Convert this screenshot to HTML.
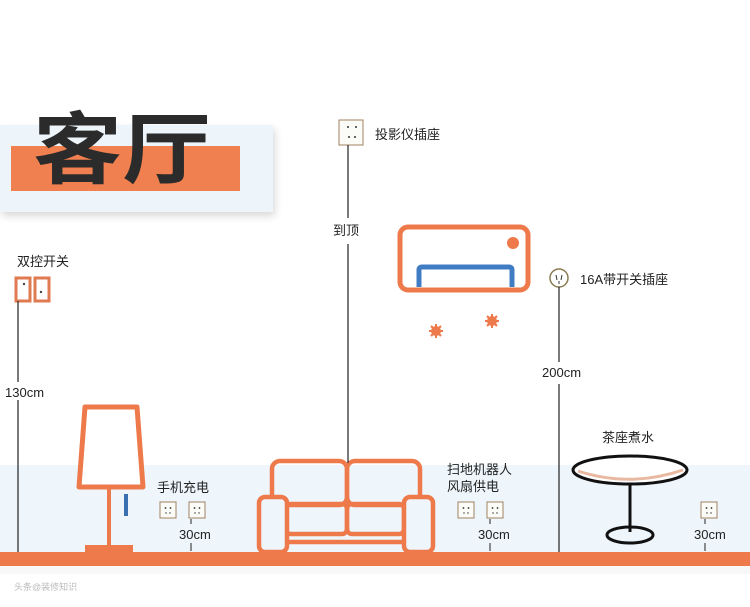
<!DOCTYPE html>
<html><head><meta charset="utf-8"><style>
html,body{margin:0;padding:0;background:#fff;}
svg{display:block;}
text{font-family:"Liberation Sans","Noto Sans CJK SC",sans-serif;fill:#222;}
</style></head><body>
<svg width="750" height="607" viewBox="0 0 750 607" xmlns="http://www.w3.org/2000/svg">
<defs>
<filter id="sh" x="-10%" y="-20%" width="130%" height="160%"><feDropShadow dx="2" dy="4" stdDeviation="4" flood-color="#000" flood-opacity="0.15"/></filter>
<g id="out"><rect x="0" y="0" width="16" height="16" fill="#fbfbf7" stroke="#a08060" stroke-width="1"/><circle cx="5.5" cy="6" r="0.9" fill="#333"/><circle cx="10.5" cy="6" r="0.9" fill="#333"/><circle cx="6" cy="11" r="0.7" fill="#333"/><circle cx="10" cy="11" r="0.7" fill="#333"/></g>
</defs>
<rect x="0" y="465" width="750" height="87" fill="#eef6fc"/>
<rect x="0" y="552" width="750" height="14" fill="#ee7a4c"/>
<rect x="0" y="566" width="750" height="8" fill="#f3f3f3" opacity="0.6"/>
<!-- title -->
<rect x="0" y="125" width="273" height="87" fill="#edf5fb" filter="url(#sh)"/>
<rect x="11" y="146" width="229" height="45" fill="#f0804f"/>
<text x="33" y="177" font-size="78" font-weight="bold" style="fill:#2b2b2b" textLength="178" lengthAdjust="spacingAndGlyphs">客厅</text>
<!-- switch -->
<text x="17" y="266" font-size="13">双控开关</text>
<rect x="16" y="278" width="14" height="23" fill="#fff" stroke="#e07a50" stroke-width="3"/>
<rect x="35" y="278" width="14" height="23" fill="#fff" stroke="#e07a50" stroke-width="3"/>
<circle cx="24" cy="284" r="1.2" fill="#444"/><circle cx="41" cy="292" r="1.2" fill="#444"/>
<line x1="18" y1="301" x2="18" y2="382" stroke="#222" stroke-width="1.2"/>
<line x1="18" y1="400" x2="18" y2="552" stroke="#222" stroke-width="1.2"/>
<text x="5" y="397" font-size="13">130cm</text>
<!-- lamp -->
<path d="M85 407 L137 407 L143 487 L79 487 Z" fill="#fff" stroke="#ee7a4c" stroke-width="5" stroke-linejoin="round"/>
<line x1="109" y1="489" x2="109" y2="547" stroke="#ee7a4c" stroke-width="4"/>
<rect x="85" y="545" width="48" height="7" fill="#ee7a4c"/>
<rect x="124" y="494" width="4" height="22" fill="#3a6fb0"/>
<!-- phone outlets -->
<text x="157" y="492" font-size="13">手机充电</text>
<use href="#out" x="160" y="502"/><use href="#out" x="189" y="502"/>
<line x1="191" y1="519" x2="191" y2="524" stroke="#222"/>
<text x="179" y="539" font-size="13">30cm</text>
<line x1="191" y1="543" x2="191" y2="551" stroke="#222"/>
<!-- sofa -->
<g fill="none" stroke="#ee7a4c" stroke-width="4.5" stroke-linejoin="round">
<rect x="272" y="461" width="75" height="44" rx="8"/>
<rect x="347" y="461" width="73" height="44" rx="8"/>
<rect x="286" y="504" width="61" height="30" rx="5"/>
<rect x="347" y="504" width="57" height="30" rx="5"/>
<line x1="286" y1="542" x2="404" y2="542"/>
<rect x="259" y="497" width="28" height="55" rx="6" fill="#eef6fc"/>
<rect x="404" y="497" width="29" height="55" rx="6" fill="#eef6fc"/>
</g>
<!-- projector -->
<rect x="339" y="120" width="24" height="25" fill="#fbfbf7" stroke="#a08060"/>
<circle cx="348" cy="127" r="1" fill="#333"/><circle cx="356" cy="127" r="1" fill="#333"/><circle cx="349" cy="137" r="1" fill="#333"/><circle cx="355" cy="137" r="1" fill="#333"/>
<text x="375" y="139" font-size="13">投影仪插座</text>
<line x1="348" y1="145" x2="348" y2="218" stroke="#222" stroke-width="1.2"/>
<text x="333" y="235" font-size="13">到顶</text>
<line x1="348" y1="244" x2="348" y2="463" stroke="#222" stroke-width="1.2"/>
<!-- AC -->
<rect x="400" y="227" width="128" height="63" rx="8" fill="#fff" stroke="#ee7a4c" stroke-width="5"/>
<circle cx="513" cy="243" r="6" fill="#ee7a4c"/>
<path d="M419 287 L419 270 Q419 267 422 267 L509 267 Q512 267 512 270 L512 287" fill="none" stroke="#3f7cc4" stroke-width="5"/>
<g stroke="#ee7a4c" stroke-width="2">
<g transform="translate(436,331)"><circle r="4" fill="#ee7a4c"/><line x1="-7" y1="0" x2="7" y2="0"/><line x1="0" y1="-7" x2="0" y2="7"/><line x1="-5" y1="-5" x2="5" y2="5"/><line x1="-5" y1="5" x2="5" y2="-5"/></g>
<g transform="translate(492,321)"><circle r="4" fill="#ee7a4c"/><line x1="-7" y1="0" x2="7" y2="0"/><line x1="0" y1="-7" x2="0" y2="7"/><line x1="-5" y1="-5" x2="5" y2="5"/><line x1="-5" y1="5" x2="5" y2="-5"/></g>
</g>
<!-- 16A -->
<circle cx="559" cy="278" r="9" fill="#fff" stroke="#8a7a50" stroke-width="1.5"/>
<line x1="556" y1="275" x2="557" y2="280" stroke="#333"/><line x1="562" y1="275" x2="561" y2="280" stroke="#333"/><line x1="559" y1="281" x2="559" y2="284" stroke="#333"/>
<text x="580" y="284" font-size="13">16A带开关插座</text>
<line x1="559" y1="287" x2="559" y2="362" stroke="#222" stroke-width="1.2"/>
<text x="542" y="377" font-size="13">200cm</text>
<line x1="559" y1="384" x2="559" y2="552" stroke="#222" stroke-width="1.2"/>
<!-- table -->
<text x="602" y="442" font-size="13">茶座煮水</text>
<ellipse cx="630" cy="470" rx="57" ry="14" fill="#fff" stroke="#111" stroke-width="3"/>
<path d="M578 471 Q630 488 683 470" fill="none" stroke="#e8b8a0" stroke-width="3"/>
<line x1="630" y1="484" x2="630" y2="532" stroke="#111" stroke-width="3"/>
<ellipse cx="630" cy="535" rx="23" ry="8" fill="none" stroke="#111" stroke-width="3"/>
<!-- robot outlets -->
<text x="447" y="474" font-size="13">扫地机器人</text>
<text x="447" y="491" font-size="13">风扇供电</text>
<use href="#out" x="458" y="502"/><use href="#out" x="487" y="502"/>
<line x1="490" y1="519" x2="490" y2="524" stroke="#222"/>
<text x="478" y="539" font-size="13">30cm</text>
<line x1="490" y1="543" x2="490" y2="551" stroke="#222"/>
<use href="#out" x="701" y="502"/>
<line x1="705" y1="519" x2="705" y2="524" stroke="#222"/>
<text x="694" y="539" font-size="13">30cm</text>
<line x1="705" y1="543" x2="705" y2="551" stroke="#222"/>
<text x="14" y="590" font-size="9" style="fill:#bbb">头条@装修知识</text>
</svg>
</body></html>
